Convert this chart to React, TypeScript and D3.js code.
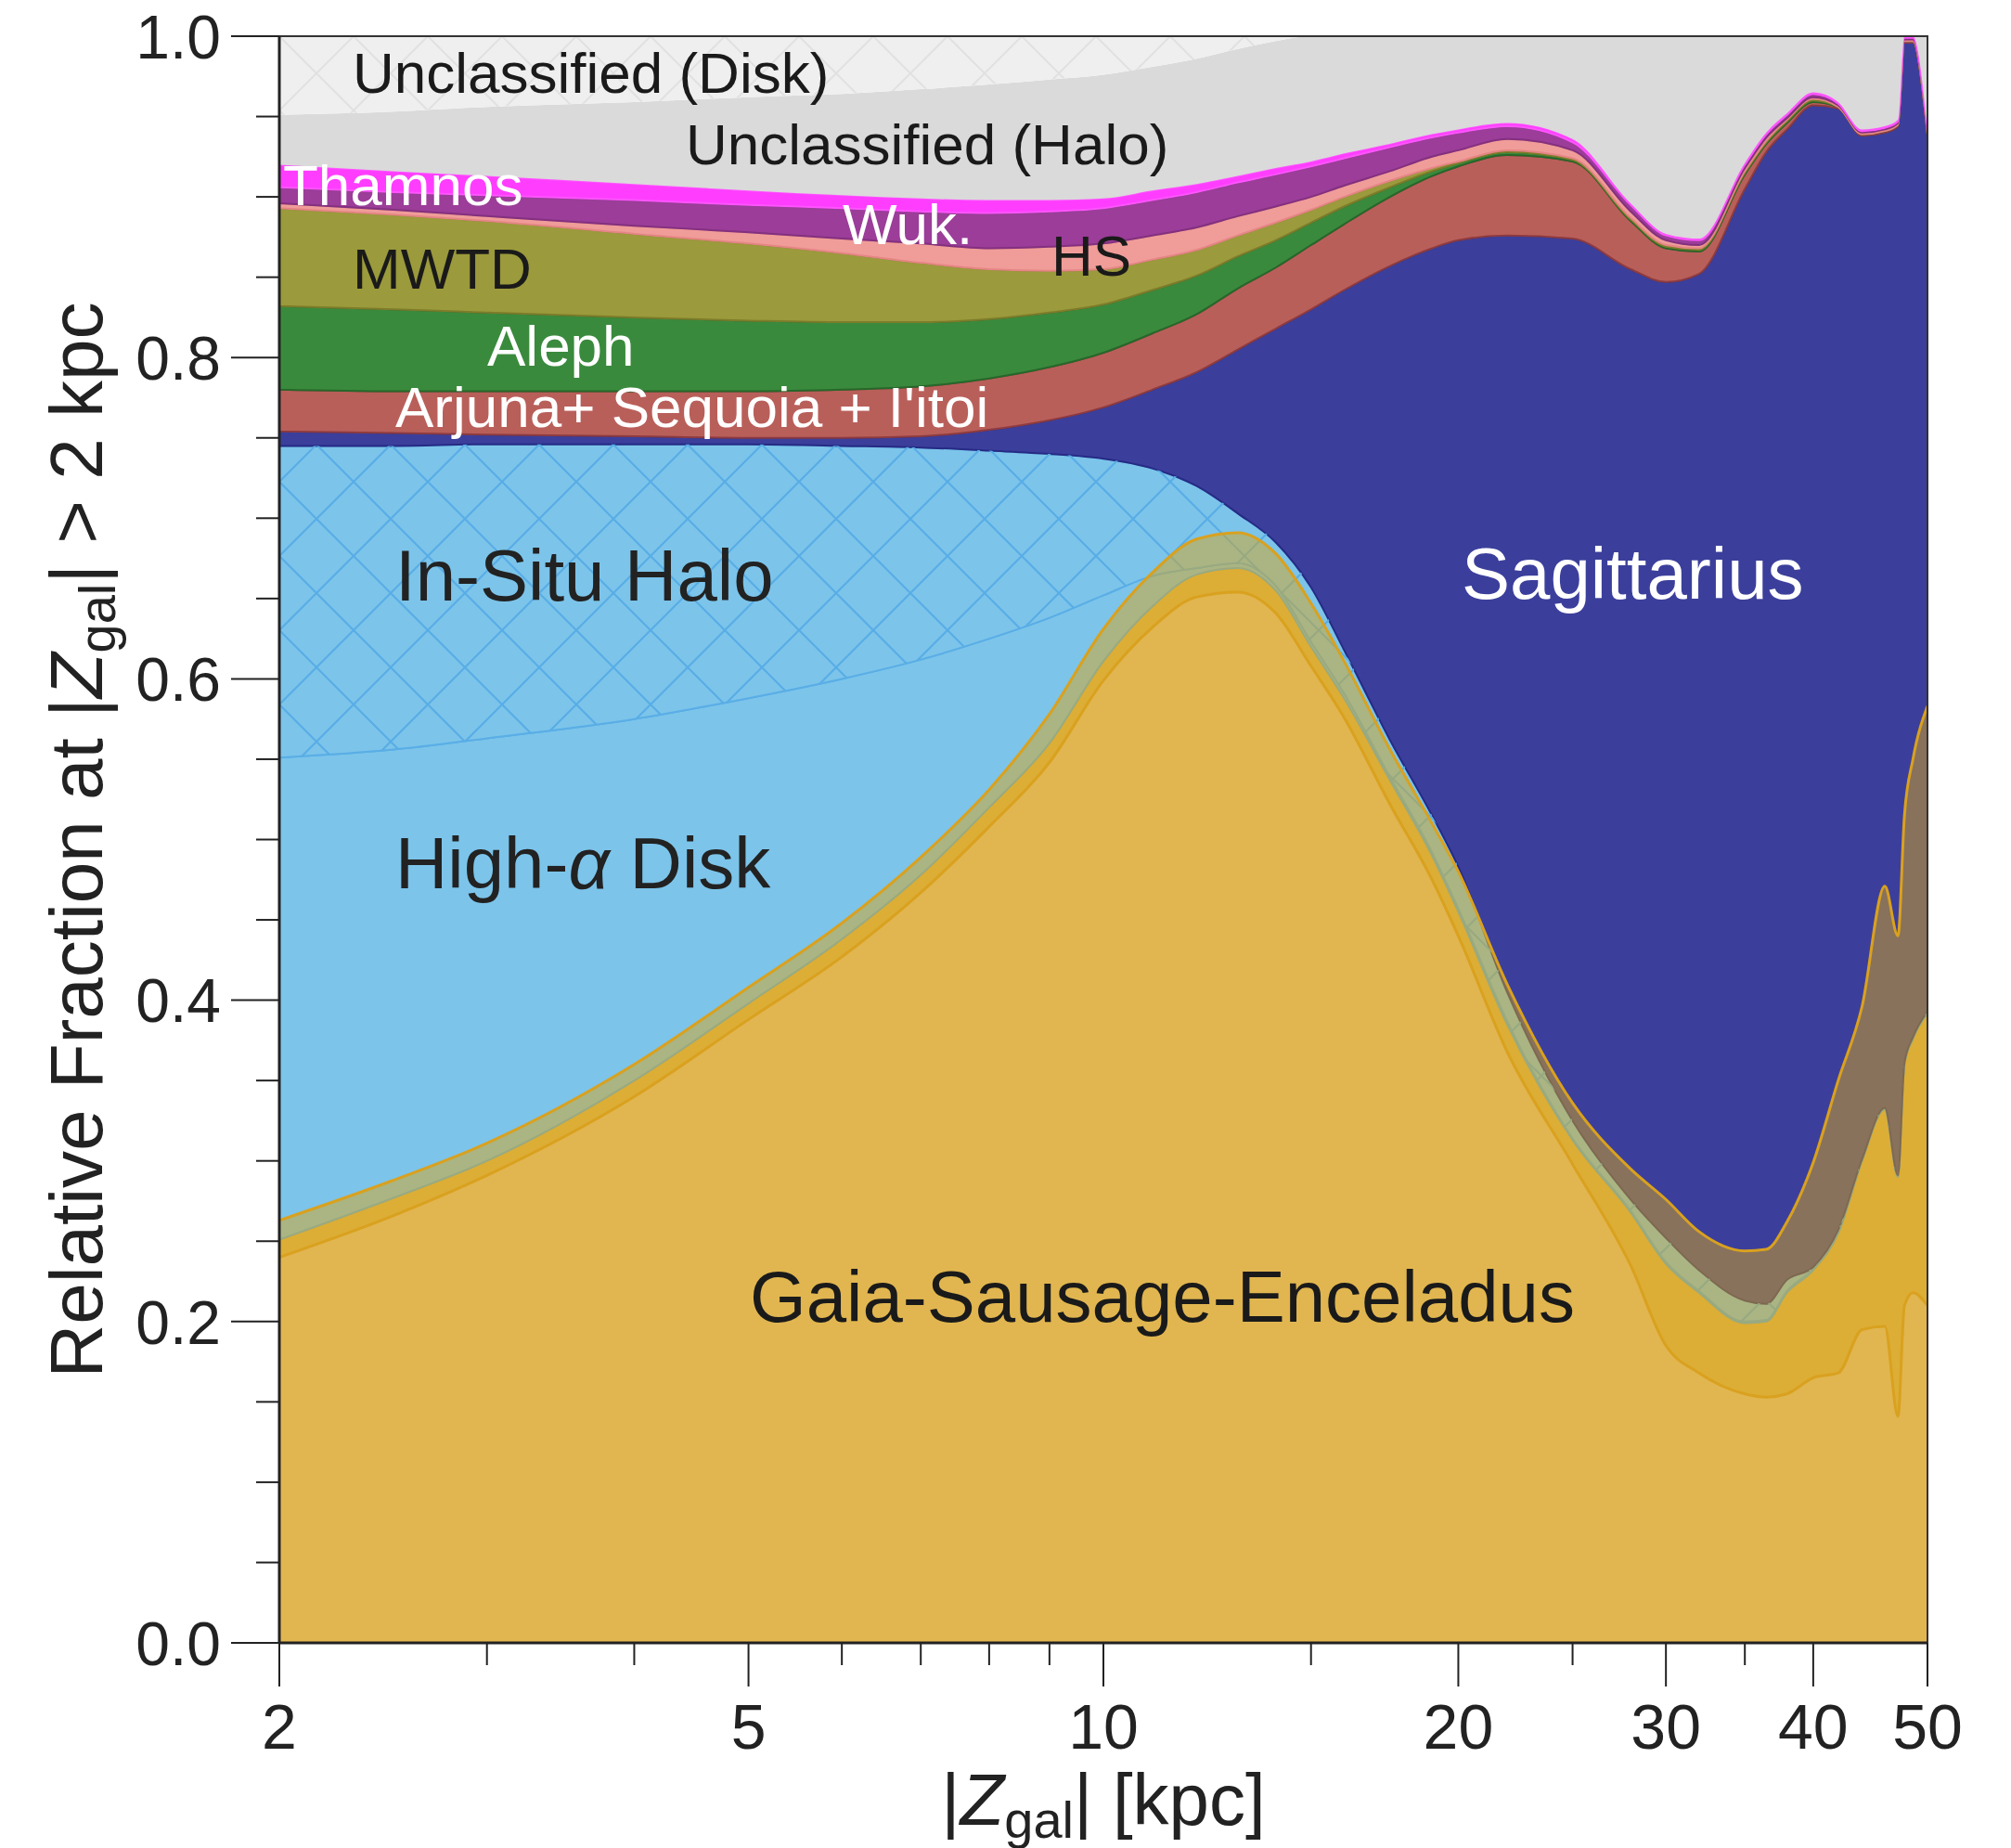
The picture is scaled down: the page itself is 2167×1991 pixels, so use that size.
import React from 'react';
import * as d3 from 'd3';

// |Z_gal| sample points [kpc]
const zGal = [2, 2.5, 3, 4, 5, 6, 7, 8, 9, 10, 11, 12, 13, 14, 15, 16, 17.5, 19, 20, 22, 25, 28, 30, 32, 35, 36.5, 38, 40, 42, 44, 46, 47.2, 47.8, 48.6, 50];

// relative fractions, stacked bottom -> top
const gse = [0.251, 0.277, 0.300, 0.350, 0.398, 0.438, 0.478, 0.520, 0.560, 0.611, 0.645, 0.665, 0.669, 0.655, 0.620, 0.588, 0.537, 0.490, 0.455, 0.385, 0.313, 0.268, 0.236, 0.218, 0.199, 0.200, 0.218, 0.232, 0.255, 0.300, 0.332, 0.290, 0.360, 0.376, 0.392];
const highAlphaDisk = [0.300, 0.279, 0.263, 0.225, 0.190, 0.162, 0.134, 0.105, 0.078, 0.041, 0.019, 0.004, 0.003, 0.003, 0.003, 0.003, 0.002, 0.002, 0.002, 0.002, 0.001, 0.001, 0.001, 0.001, 0.001, 0.001, 0.001, 0.001, 0, 0, 0, 0, 0, 0, 0];
const inSituHalo = [0.194, 0.189, 0.183, 0.171, 0.158, 0.145, 0.132, 0.117, 0.102, 0.085, 0.067, 0.051, 0.031, 0.027, 0.034, 0.027, 0.023, 0.023, 0.026, 0.018, 0.011, 0.007, 0.015, 0.013, 0.013, 0.010, 0.007, 0.001, 0.002, 0.001, 0.001, 0.001, 0.001, 0.001, 0.001];
const sagittarius = [0.009, 0.008, 0.006, 0.005, 0.004, 0.005, 0.007, 0.013, 0.021, 0.032, 0.049, 0.071, 0.102, 0.133, 0.173, 0.224, 0.295, 0.353, 0.390, 0.471, 0.549, 0.579, 0.595, 0.620, 0.692, 0.717, 0.716, 0.723, 0.698, 0.637, 0.607, 0.653, 0.635, 0.619, 0.545];
const arjunaSequoiaItoi = [0.026, 0.026, 0.027, 0.028, 0.029, 0.030, 0.031, 0.032, 0.033, 0.034, 0.035, 0.036, 0.038, 0.038, 0.040, 0.041, 0.043, 0.045, 0.046, 0.050, 0.048, 0.030, 0.021, 0.014, 0.009, 0.005, 0.004, 0.002, 0.001, 0.001, 0.001, 0.001, 0.001, 0.001, 0.001];
const aleph = [0.052, 0.051, 0.049, 0.046, 0.044, 0.042, 0.040, 0.037, 0.034, 0.030, 0.027, 0.024, 0.020, 0.017, 0.014, 0.011, 0.006, 0.003, 0.002, 0.002, 0.001, 0.001, 0.001, 0.001, 0.001, 0.001, 0.001, 0.001, 0, 0, 0, 0, 0, 0, 0];
const mwtd = [0.061, 0.059, 0.057, 0.052, 0.048, 0.043, 0.037, 0.031, 0.026, 0.022, 0.019, 0.016, 0.013, 0.011, 0.008, 0.006, 0.004, 0.002, 0.001, 0.001, 0.001, 0.001, 0.001, 0.001, 0.001, 0.001, 0.001, 0.001, 0, 0, 0, 0, 0, 0, 0];
const helmiStreams = [0.003, 0.003, 0.003, 0.005, 0.007, 0.009, 0.012, 0.013, 0.015, 0.016, 0.015, 0.014, 0.012, 0.010, 0.008, 0.007, 0.006, 0.007, 0.007, 0.007, 0.005, 0.004, 0.003, 0.002, 0.002, 0.002, 0.001, 0.001, 0.001, 0.001, 0.001, 0.001, 0.001, 0.001, 0.001];
const wukong = [0.010, 0.011, 0.013, 0.016, 0.017, 0.019, 0.020, 0.022, 0.022, 0.022, 0.022, 0.022, 0.021, 0.020, 0.019, 0.017, 0.015, 0.012, 0.011, 0.008, 0.005, 0.004, 0.003, 0.003, 0.002, 0.002, 0.002, 0.002, 0.001, 0.001, 0.001, 0.001, 0.001, 0.001, 0.001];
const thamnos = [0.014, 0.013, 0.012, 0.010, 0.009, 0.008, 0.008, 0.008, 0.007, 0.006, 0.006, 0.005, 0.004, 0.004, 0.003, 0.003, 0.002, 0.002, 0.002, 0.002, 0.002, 0.001, 0.001, 0.001, 0.001, 0.001, 0.001, 0.001, 0.001, 0.001, 0.001, 0.001, 0.001, 0.001, 0.001];
const unclassifiedHalo = [0.031, 0.037, 0.043, 0.051, 0.058, 0.063, 0.068, 0.072, 0.075, 0.077, 0.077, 0.078, 0.079, 0.079, 0.078, 0.073, 0.067, 0.061, 0.058, 0.054, 0.064, 0.104, 0.123, 0.126, 0.079, 0.060, 0.048, 0.035, 0.041, 0.058, 0.056, 0.052, 0, 0, 0.058];
const unclassifiedDisk = [0.049, 0.047, 0.044, 0.041, 0.038, 0.036, 0.033, 0.030, 0.027, 0.024, 0.019, 0.014, 0.008, 0.003, 0, 0, 0, 0, 0, 0, 0, 0, 0, 0, 0, 0, 0, 0, 0, 0, 0, 0, 0, 0, 0];

// GSE uncertainty band (absolute fraction)
const gseLow = [0.240, 0.266, 0.291, 0.340, 0.388, 0.427, 0.467, 0.508, 0.548, 0.599, 0.632, 0.651, 0.654, 0.641, 0.608, 0.576, 0.522, 0.475, 0.440, 0.368, 0.298, 0.235, 0.185, 0.168, 0.155, 0.153, 0.155, 0.165, 0.168, 0.195, 0.197, 0.141, 0.210, 0.218, 0.210];
const gseHigh = [0.263, 0.288, 0.311, 0.360, 0.408, 0.448, 0.489, 0.531, 0.578, 0.631, 0.666, 0.687, 0.691, 0.678, 0.647, 0.611, 0.556, 0.510, 0.480, 0.410, 0.336, 0.295, 0.276, 0.256, 0.244, 0.245, 0.262, 0.299, 0.350, 0.396, 0.471, 0.440, 0.515, 0.550, 0.583];

const yMajorTicks = [0, 0.2, 0.4, 0.6, 0.8, 1.0];
const yMinorTicks = [0.05, 0.1, 0.15, 0.25, 0.3, 0.35, 0.45, 0.5, 0.55, 0.65, 0.7, 0.75, 0.85, 0.9, 0.95];
const xMajorTicks = [2, 5, 10, 20, 30, 40, 50];
const xMinorTicks = [3, 4, 6, 7, 8, 9, 15, 25, 35];

const seriesValues: Record<string, number[]> = {
  gse, highAlphaDisk, inSituHalo, sagittarius, arjunaSequoiaItoi, aleph,
  mwtd, helmiStreams, wukong, thamnos, unclassifiedHalo, unclassifiedDisk,
};
const keys = Object.keys(seriesValues);

const fills: Record<string, string> = {
  gse: '#e1b650',
  highAlphaDisk: '#7cc4ea',
  inSituHalo: '#7cc4ea',
  sagittarius: '#3b3f9b',
  arjunaSequoiaItoi: '#b95f5a',
  aleph: '#3a8a3d',
  mwtd: '#9b9a3c',
  helmiStreams: '#f09c99',
  wukong: '#9b3d99',
  thamnos: '#ff3dff',
  unclassifiedHalo: '#dadada',
  unclassifiedDisk: '#efefef',
};
const edges: Record<string, string | null> = {
  gse: '#d6a233',
  highAlphaDisk: '#5aaee6',
  inSituHalo: '#5aaee6',
  sagittarius: '#262b85',
  arjunaSequoiaItoi: '#8e3b40',
  aleph: '#27672a',
  mwtd: '#7d7c2a',
  helmiStreams: '#e58585',
  wukong: '#83307f',
  thamnos: '#ff55ff',
  unclassifiedHalo: null,
  unclassifiedDisk: null,
};

const W = 2167;
const H = 1991;
const plot = { left: 301, right: 2077, top: 39, bottom: 1770 };
const font = "'Liberation Sans', Arial, Helvetica, sans-serif";
const hatch = 80;

export default function App() {
  const x = d3.scaleLog().domain([2, 50]).range([plot.left, plot.right]);
  const y = d3.scaleLinear().domain([0, 1]).range([plot.bottom, plot.top]);

  const rows = zGal.map((z, i) => {
    const r: any = { z };
    keys.forEach(k => { r[k] = seriesValues[k][i]; });
    return r;
  });
  const stacked = d3.stack<any>().keys(keys).offset(d3.stackOffsetExpand)(rows);

  const area = d3.area<any>()
    .x(d => x(d.data.z))
    .y0(d => y(d[0]))
    .y1(d => y(d[1]))
    .curve(d3.curveMonotoneX);

  const band = d3.area<number>()
    .x(d => x(d))
    .y0((_, i) => y(gseLow[i]))
    .y1((_, i) => y(gseHigh[i]))
    .curve(d3.curveMonotoneX);
  const lowLine = d3.line<number>().x(d => x(d)).y((_, i) => y(gseLow[i])).curve(d3.curveMonotoneX);
  const highLine = d3.line<number>().x(d => x(d)).y((_, i) => y(gseHigh[i])).curve(d3.curveMonotoneX);

  const textDark = '#1a1a1a';

  return (
    <svg width={W} height={H} viewBox={`0 0 ${W} ${H}`}
      style={{ position: 'absolute', left: 0, top: 0, background: '#fff' }}
      fontFamily={font}>
      <defs>
        <clipPath id="plotClip">
          <rect x={plot.left} y={plot.top} width={plot.right - plot.left} height={plot.bottom - plot.top} />
        </clipPath>
        <pattern id="hatchInSitu" patternUnits="userSpaceOnUse" width={hatch} height={hatch} x={plot.left} y={plot.top}>
          <path d={`M0,0 L${hatch},${hatch} M${hatch},0 L0,${hatch}`} stroke="#58ade6" strokeWidth={2.2} fill="none" />
        </pattern>
        <pattern id="hatchDisk" patternUnits="userSpaceOnUse" width={hatch} height={hatch} x={plot.left} y={plot.top}>
          <path d={`M0,0 L${hatch},${hatch} M${hatch},0 L0,${hatch}`} stroke="#e1e1e1" strokeWidth={2} fill="none" />
        </pattern>
      </defs>

      <g clipPath="url(#plotClip)">
        {stacked.map(s => (
          <path key={s.key} d={area(s) || ''} fill={fills[s.key]}
            stroke={edges[s.key] || 'none'} strokeWidth={edges[s.key] ? 2 : 0} strokeLinejoin="round" />
        ))}
        {stacked.filter(s => s.key === 'inSituHalo' || s.key === 'unclassifiedDisk').map(s => (
          <path key={`h-${s.key}`} d={area(s) || ''}
            fill={s.key === 'inSituHalo' ? 'url(#hatchInSitu)' : 'url(#hatchDisk)'} stroke="none" />
        ))}
        <path d={band(zGal) || ''} fill="rgb(215,165,27)" fillOpacity={0.5} stroke="none" />
        <path d={lowLine(zGal) || ''} fill="none" stroke="#d9a11f" strokeWidth={3} strokeLinejoin="round" />
        <path d={highLine(zGal) || ''} fill="none" stroke="#d9a11f" strokeWidth={3} strokeLinejoin="round" />
      </g>

      {/* region labels */}
      <g fontSize={62}>
        <text x={380} y={100} fill={textDark}>Unclassified (Disk)</text>
        <text x={739} y={177} fill={textDark}>Unclassified (Halo)</text>
        <text x={305} y={221} fill="#fff">Thamnos</text>
        <text x={908} y={263} fill="#fff">Wuk.</text>
        <text x={1133} y={297} fill={textDark}>HS</text>
        <text x={380} y={311} fill={textDark}>MWTD</text>
        <text x={525} y={394} fill="#fff">Aleph</text>
        <text x={426} y={460} fill="#fff">Arjuna+ Sequoia + I'itoi</text>
      </g>
      <g fontSize={78}>
        <text x={426} y={647} fill="#222">In-Situ Halo</text>
        <text x={426} y={957} fill="#222">High-<tspan fontStyle="italic">α</tspan> Disk</text>
        <text x={1575} y={645} fill="#fff">Sagittarius</text>
        <text x={808} y={1424} fill={textDark}>Gaia-Sausage-Enceladus</text>
      </g>

      {/* frame */}
      <rect x={plot.left} y={plot.top} width={plot.right - plot.left} height={plot.bottom - plot.top}
        fill="none" stroke="#333" strokeWidth={2} />
      <line x1={plot.left} x2={plot.left} y1={plot.top} y2={plot.bottom} stroke="#222" strokeWidth={3} />
      <line x1={plot.left} x2={plot.right} y1={plot.bottom} y2={plot.bottom} stroke="#222" strokeWidth={3} />

      {/* y axis */}
      <g stroke="#222" strokeWidth={2}>
        {yMajorTicks.map(t => <line key={`ym${t}`} x1={plot.left - 52} x2={plot.left} y1={y(t)} y2={y(t)} />)}
        {yMinorTicks.map(t => <line key={`yn${t}`} x1={plot.left - 25} x2={plot.left} y1={y(t)} y2={y(t)} />)}
      </g>
      <g fontSize={66} fill="#222" textAnchor="end">
        {yMajorTicks.map(t => (
          <text key={`yl${t}`} x={238} y={y(t)} dy="0.36em">{d3.format('.1f')(t)}</text>
        ))}
      </g>
      <text transform={`translate(110, 905) rotate(-90)`} textAnchor="middle" fontSize={80} fill="#222">
        Relative Fraction at |<tspan fontStyle="italic">Z</tspan><tspan fontSize={56} dy={14}>gal</tspan><tspan dy={-14}>| &gt; 2 kpc</tspan>
      </text>

      {/* x axis */}
      <g stroke="#222" strokeWidth={2}>
        {xMajorTicks.map(t => <line key={`xm${t}`} x1={x(t)} x2={x(t)} y1={plot.bottom} y2={plot.bottom + 47} />)}
        {xMinorTicks.map(t => <line key={`xn${t}`} x1={x(t)} x2={x(t)} y1={plot.bottom} y2={plot.bottom + 24} />)}
      </g>
      <g fontSize={68} fill="#222" textAnchor="middle">
        {xMajorTicks.map(t => (
          <text key={`xl${t}`} x={x(t)} y={1884}>{t}</text>
        ))}
      </g>
      <text x={1189} y={1966} textAnchor="middle" fontSize={78} fill="#222">
        |<tspan fontStyle="italic">Z</tspan><tspan fontSize={56} dy={14}>gal</tspan><tspan dy={-14}>| [kpc]</tspan>
      </text>
    </svg>
  );
}
